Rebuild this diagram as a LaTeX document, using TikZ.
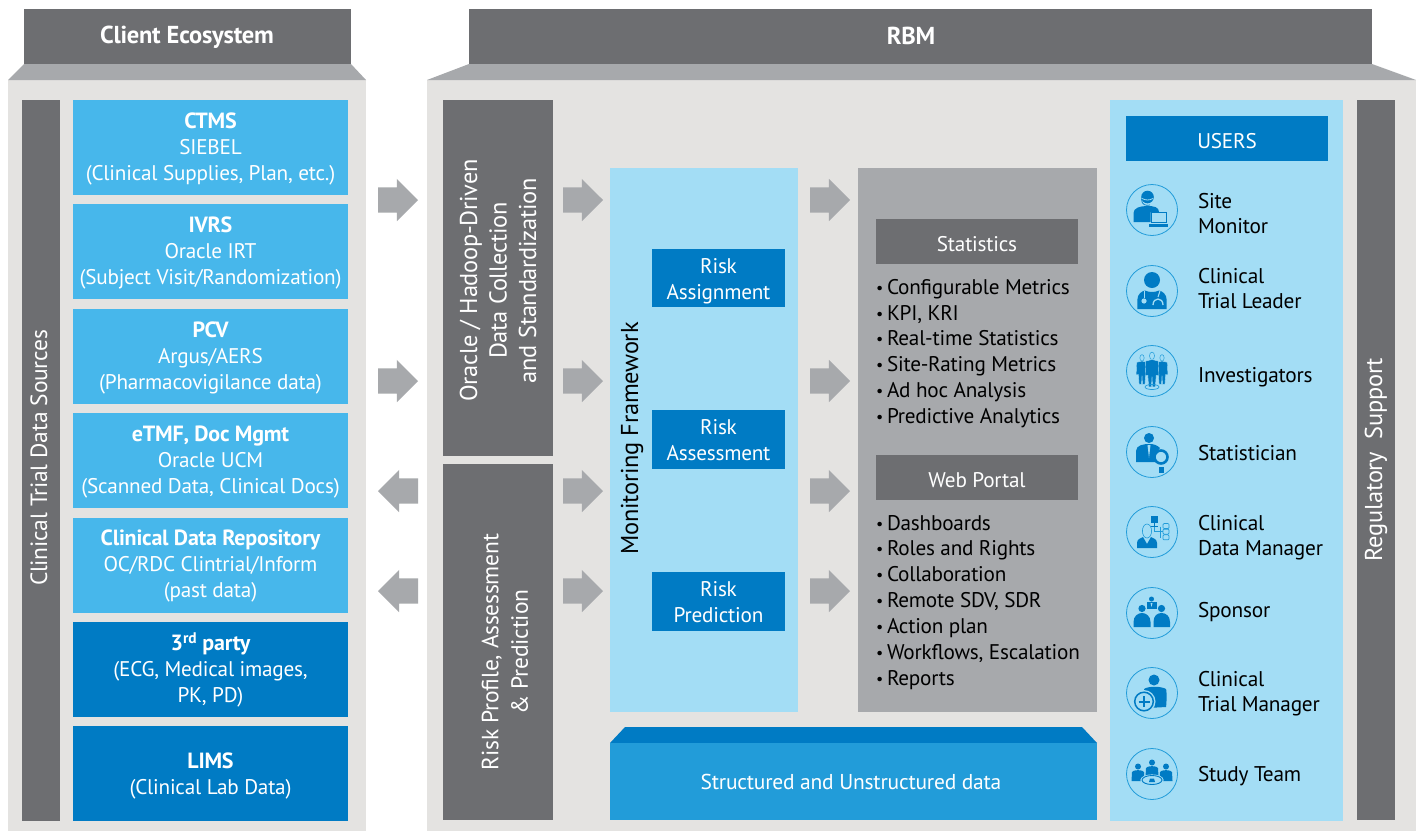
\documentclass[tikz,border=0pt]{standalone}
\usepackage{fontspec}
\setmainfont[LetterSpace=-1.0]{PT Sans}
\usetikzlibrary{shapes.arrows}
\definecolor{panel}{HTML}{E4E3E1}
\definecolor{dark}{HTML}{6D6E71}
\definecolor{roof}{HTML}{A7A9AC}
\definecolor{sky}{HTML}{47B7EB}
\definecolor{deep}{HTML}{007BC4}
\definecolor{pale}{HTML}{A3DDF5}
\definecolor{mid}{HTML}{229CD9}
\newcommand{\tbf}{\fontsize{22}{26}\bfseries\selectfont}
\newcommand{\bul}{\makebox[11pt][l]{\fontsize{16}{16}\selectfont\raisebox{1pt}{•}}}
\tikzset{
  x=1pt,y=-1pt,
  base/.style={inner sep=0pt,outer sep=0pt,anchor=center,font=\fontsize{21.2}{26}\selectfont,align=center},
  wt/.style={base,text=white},
  bk/.style={base,text=black},
  hd/.style={wt,font=\fontsize{24.5}{26}\bfseries\selectfont},
  lst/.style={base,anchor=north west,align=left,text=black,font=\fontsize{21.2}{25.9}\selectfont},
  usr/.style={base,anchor=west,align=left,text=black,font=\fontsize{21.3}{25.6}\selectfont},
  vert/.style={rotate=90,font=\fontsize{23.5}{29.5}\selectfont},
  vertb/.style={rotate=90,font=\fontsize{24.4}{29.5}\selectfont},
  blk/.style={inner sep=0pt,outer sep=0pt,shape=single arrow,fill=roof,minimum height=40pt,single arrow head extend=8.5pt,single arrow head indent=0pt,anchor=tail},
  blkl/.style={blk,shape border rotate=180},
  ring/.style={draw=mid,line width=0.8pt,fill=none,circle,minimum size=51pt,inner sep=0pt,outer sep=0pt},
}
\newcommand{\bx}[7][0]{\fill[#6] (#2,#3) rectangle (#4,#5);\node[wt,yshift=-#1pt] at ({(#2+#4)/2},{(#3+#5)/2}) {#7};}
\newcommand{\ar}{\rule{0pt}{25pt}}
\begin{document}
\begin{tikzpicture}
\useasboundingbox (0,0) rectangle (1416,831);
\fill[white] (0,0) rectangle (1416,831);
% client
\fill[panel] (8,80) rectangle (366,831);
\fill[roof] (24,64) -- (351,64) -- (366,80) -- (8,80) -- cycle;
\fill[dark] (24,9) rectangle (351,64);
\node[hd] (client) at (187,37) {Client Ecosystem};
\fill[dark] (22,100) rectangle (60,821);
\node[wt,vert] (ctds) at (39,458) {Clinical Trial Data Sources};
\bx[1.5]{73}{100}{348}{195}{sky}{{\tbf CTMS}\\SIEBEL\\(Clinical Supplies, Plan, etc.)}
\bx[1.5]{73}{204}{348}{299}{sky}{{\tbf IVRS}\\Oracle IRT\\(Subject Visit/Randomization)}
\bx[1.5]{73}{309}{348}{404}{sky}{{\tbf PCV}\\Argus/AERS\\(Pharmacovigilance data)}
\bx[1.5]{73}{413}{348}{508}{sky}{{\tbf eTMF, Doc Mgmt}\\Oracle UCM\\(Scanned Data, Clinical Docs)}
\bx[0.5]{73}{518}{348}{613}{sky}{{\tbf Clinical Data Repository}\\OC/RDC Clintrial/Inform\\(past data)}
\bx[0.5]{73}{622}{348}{717}{deep}{{\tbf 3\textsuperscript{rd} party}\\(ECG, Medical images,\\PK, PD)}
\bx[2.5]{73}{726}{348}{821}{deep}{{\tbf LIMS}\\(Clinical Lab Data)}
% rbm
\fill[panel] (427,80) rectangle (1416,831);
\fill[roof] (469,64) -- (1372,64) -- (1416,80) -- (427,80) -- cycle;
\fill[dark] (469,9) rectangle (1372,64);
\node[hd] (rbm) at (911,35.5) {RBM};
\fill[dark] (443,100) rectangle (553,456);
\node[wt,vertb] (oracle) at (498,280.5) {Oracle / Hadoop-Driven\\Data Collection\\and Standardization};
\fill[dark] (443,464) rectangle (553,820);
\node[wt,vert] (riskp) at (505,652) {Risk Profile, Assessment\\\& Prediction};
\fill[pale] (610,168) rectangle (798,712);
\node[bk,vertb] (mf) at (632,438.5) {Monitoring Framework};
\bx[3.2]{652}{249}{785}{307}{deep}{Risk\\Assignment}
\bx[1]{652}{410}{785}{469}{deep}{Risk\\Assessment}
\bx[1]{652}{572}{785}{631}{deep}{Risk\\Prediction}
\fill[roof] (858,168) rectangle (1097,712);
\bx[3]{876}{219}{1078}{264}{dark}{Statistics}
\bx[3]{876}{455}{1078}{500}{dark}{Web Portal}
\node[lst] (stats) at (876,279) {\bul Configurable Metrics\\\bul KPI, KRI\\\bul Real-time Statistics\\\bul Site-Rating Metrics\\\bul Ad hoc Analysis\\\bul Predictive Analytics};
\node[lst] (web) at (876,515) {\bul Dashboards\\\bul Roles and Rights\\\bul Collaboration\\\bul Remote SDV, SDR\\\bul Action plan\\\bul Workflows, Escalation\\\bul Reports};
% data
\fill[deep] (625,727) -- (1082,727) -- (1097,743) -- (610,743) -- cycle;
\fill[mid] (610,743) rectangle (1097,820);
\node[wt,font=\fontsize{21.5}{26}\selectfont] (sud) at (851,782) {Structured and Unstructured data};
% users
\fill[pale] (1110,100) rectangle (1343,821);
\bx[3]{1126}{116}{1328}{161}{deep}{USERS}
\fill[dark] (1357,100) rectangle (1395,820);
\node[wt,vertb] (reg) at (1376,459.5) {Regulatory\ \ Support};
% arrows
\foreach \n/\y in {a/200,b/381}{\node[blk] (l\n) at (378,\y) {\ar};}
\foreach \n/\y in {c/491,d/591}{\node[blkl] (l\n) at (418,\y) {\ar};}
\foreach \n/\y in {a/200,b/381,c/491,d/591}{\node[blk] (m\n) at (563,\y) {\ar};\node[blk] (r\n) at (810,\y) {\ar};}
% user rows
\foreach \n/\y in {a/210,b/291,c/371,d/452,e/532,f/613,g/693,h/774}{\node[ring] (u\n) at (1152,\y) {};}
\node[usr] (ta) at (1198,213.5) {Site\\Monitor};
\node[usr] (tb) at (1198,288.5) {Clinical\\Trial Leader};
\node[usr] (tc) at (1198,377.5) {Investigators};
\node[usr] (td) at (1198,453) {Statistician};
\node[usr] (te) at (1198,537.5) {Clinical\\Data Manager};
\node[usr] (tf) at (1198,612.5) {Sponsor};
\node[usr] (tg) at (1198,693.5) {Clinical\\Trial Manager};
\node[usr] (th) at (1198,776.5) {Study Team};
% icon a: site monitor
\begin{scope}[shift={(1152,210)}]
\fill[deep] (-4.5,-13) circle (6.3);
\draw[pale,line width=0.8pt] (-10,-11.5) .. controls (-6,-9.5) and (-3,-9.5) .. (1,-11.5);
\draw[deep,line width=0.7pt] (-10.5,-11) .. controls (-10.5,-5) and (-6,-4) .. (-2,-5);
\fill[deep] (-18.5,12) -- (-18.5,3) .. controls (-18.5,-2) and (-12,-4) .. (-5,-4) .. controls (2,-4) and (7,-3) .. (7,2) -- (-1.5,2) -- (-1.5,12) -- cycle;
\draw[deep,line width=1pt,fill=pale] (-1,2) rectangle (14.5,12.5);
\fill[deep] (-2.7,14) rectangle (16,16.8);
\end{scope}
% icon b: trial leader
\begin{scope}[shift={(1152,291)}]
\fill[deep] (0,-11) circle (8);
\fill[deep] (-14.7,18) -- (-14.7,9) .. controls (-14.7,3) and (-10,0) .. (-7,-0.5) .. controls (-3,1.5) and (3,1.5) .. (7,-0.5) .. controls (10,0) and (14.7,3) .. (14.7,9) -- (14.7,18) -- cycle;
\draw[pale,line width=1pt] (-8,0) -- (-8,7);
\fill[pale] (-8,10) circle (2.6);
\draw[pale,line width=1pt] (8,0) -- (6,6);
\draw[pale,line width=1.3pt] (1,14) .. controls (1,6) and (11,6) .. (11,14);
\end{scope}
% icon c: investigators
\begin{scope}[shift={(1152,371)}]
\foreach \x/\s in {-10/0.9,10/0.9,0/1.05}{
  \begin{scope}[shift={(\x,-1)},scale=\s]
  \draw[mid,line width=0.5pt,fill=pale] (0,-13.5) ellipse (2.4 and 3.6);
  \draw[pale,line width=0.4pt,fill=deep] (-6,-8.5) -- (0,-10) -- (6,-8.5) -- (6.5,5) -- (4,5) -- (3.2,16) -- (0.5,16) -- (0,6) -- (-0.5,16) -- (-3.2,16) -- (-4,5) -- (-6.5,5) -- cycle;
  \end{scope}}
\draw[mid,line width=0.7pt] (0,16) ellipse (7 and 2.5);
\end{scope}
% icon d: statistician
\begin{scope}[shift={(1152,452)}]
\fill[deep] (-3,-14) circle (5);
\fill[deep] (-16,10) -- (-16,-1) .. controls (-16,-7) and (-8,-8) .. (-3,-8) .. controls (2,-8) and (5,-7) .. (8,-4) -- (2,4) -- (4,10) -- cycle;
\draw[deep,line width=2.6pt,fill=pale] (9,5) circle (6.5);
\fill[deep] (6.5,15) rectangle (11.5,21);
\fill[pale] (-3,-7) -- (-4.5,-7) -- (-3,6) -- (-1.5,-7) -- cycle;
\end{scope}
% icon e: data manager
\begin{scope}[shift={(1152,532)}]
\fill[deep] (-15,16) -- (-15,11) .. controls (-15,7) and (-11,6) .. (-9,5) -- (-5,12) -- (-1,5) .. controls (1,6) and (5,7) .. (5,11) -- (5,16) -- cycle;
\draw[mid,line width=0.6pt] (-5,-1) ellipse (4.6 and 7);
\fill[deep] (-1.5,-16.5) rectangle (6,-9);
\fill[deep] (1.5,-9) rectangle (3,-6);
\fill[deep] (-1,-6) rectangle (5.5,-5);
\draw[mid,line width=0.6pt] (2,-5) -- (2,-1) -- (6,-1) (8,-5.5) -- (8,6) (6,-1) -- (11,-1);
\foreach \y in {-8.5,-2.8,2.8}{\draw[mid,line width=0.7pt,rounded corners=1pt] (11,\y) rectangle (17,{\y+5});}
\end{scope}
% icon f: sponsor
\begin{scope}[shift={(1152,613)}]
\fill[deep] (-0.5,-14) circle (2.5);
\fill[deep] (-5,-11) -- (5,-11) -- (5,-4) -- (-5,-4) -- cycle;
\fill[pale] (-1.5,-10) -- (0.5,-10) -- (-0.5,-6) -- cycle;
\fill[deep] (-10,-4.5) circle (3.6);
\fill[deep] (9.5,-4.5) circle (3.6);
\fill[deep] (-18.5,14) -- (-18.5,9) .. controls (-18.5,3) and (-14,0) .. (-10,0) .. controls (-6,0) and (-1.5,3) .. (-1.5,9) -- (-1.5,14) -- cycle;
\fill[deep] (1.5,14) -- (1.5,9) .. controls (1.5,3) and (5,0) .. (9.5,0) .. controls (14,0) and (18,3) .. (18,9) -- (18,14) -- cycle;
\end{scope}
% icon g: trial manager
\begin{scope}[shift={(1152,693)}]
\fill[deep] (2,-13) circle (5.5);
\fill[deep] (-8,-4) .. controls (-4,-7) and (9,-7) .. (14,-4) .. controls (15,-1) and (14.5,12) .. (14,14) -- (-5,15) -- cycle;
\fill[pale] (-8,8.5) circle (11.5);
\draw[deep,line width=1.5pt] (-8,8.5) circle (9.3);
\draw[deep,line width=2pt] (-13.5,8.5) -- (-2.5,8.5) (-8,3) -- (-8,14);
\end{scope}
% icon h: study team
\begin{scope}[shift={(1152,774)}]
\foreach \x/\yy in {-14/-4,14/-4,0/-8}{
  \fill[deep] (\x,{\yy-3.5}) circle (3);
  \fill[deep] ({\x-6.5},{\yy+11}) -- ({\x-6},{\yy+2}) .. controls ({\x-5},{\yy-0.5}) and ({\x+5},{\yy-0.5}) .. ({\x+6},{\yy+2}) -- ({\x+6.5},{\yy+11}) -- cycle;}
\draw[pale,line width=1.2pt,fill=pale] (0,6) ellipse (11 and 5);
\draw[deep,line width=0.9pt] (0,6) ellipse (10 and 4.5);
\fill[deep] (-3,8) -- (3,8) -- (2,4.5) -- (-2,4.5) -- cycle;
\end{scope}
\end{tikzpicture}
\end{document}
